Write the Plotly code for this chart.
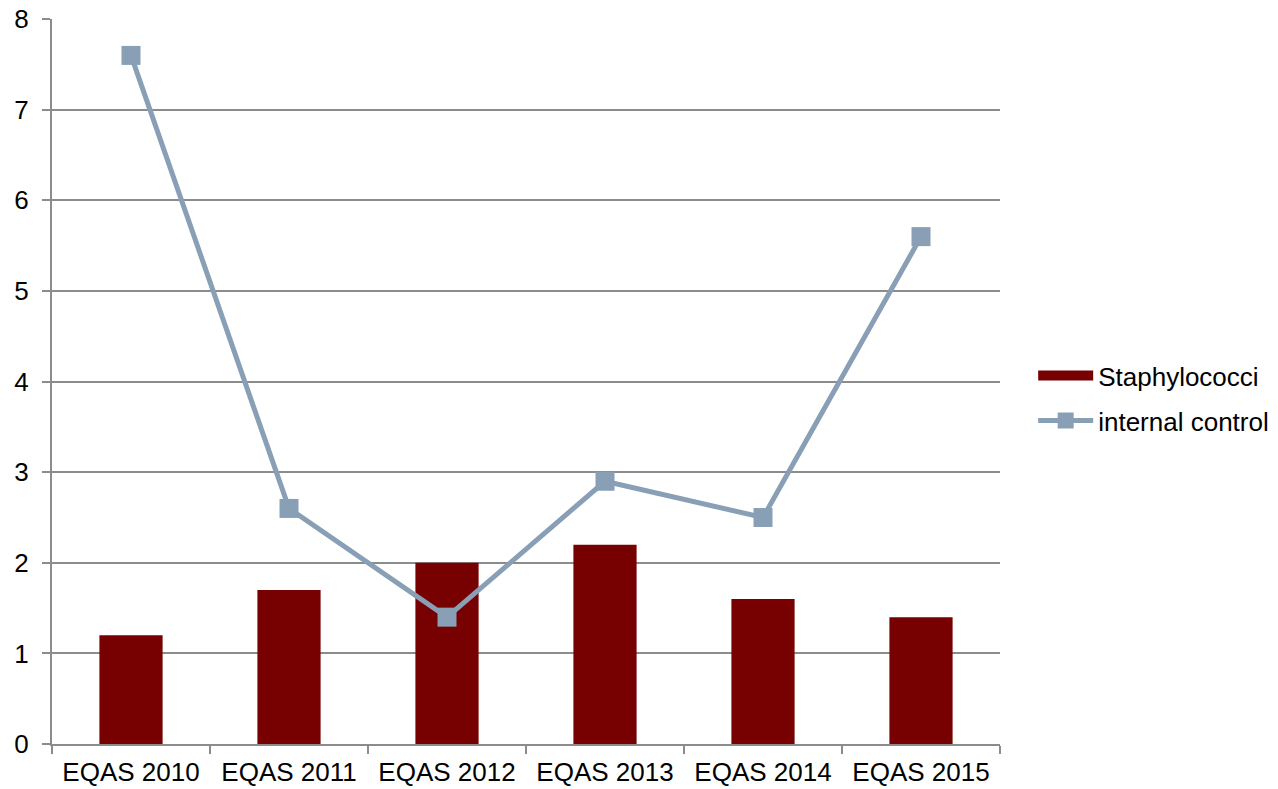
import plotly.graph_objects as go

categories = ["EQAS 2010", "EQAS 2011", "EQAS 2012", "EQAS 2013", "EQAS 2014", "EQAS 2015"]
staphylococci = [1.2, 1.7, 2.0, 2.2, 1.6, 1.4]
internal_control = [7.6, 2.6, 1.4, 2.9, 2.5, 5.6]

font_family = "Liberation Sans, Arial, sans-serif"
bar_color = "#770000"
line_color = "#889fb5"

fig = go.Figure()
fig.add_trace(go.Bar(
    x=categories, y=staphylococci, name="Staphylococci",
    marker=dict(color=bar_color, line=dict(width=0)),
    width=0.4, showlegend=False,
))
# Legend key for the bars: a wide solid block
fig.add_trace(go.Scatter(
    x=[None], y=[None], name="Staphylococci", mode="lines",
    line=dict(color=bar_color, width=14), legendgroup="a",
))
fig.add_trace(go.Scatter(
    x=categories, y=internal_control, name="internal control",
    mode="lines+markers", legendgroup="b",
    line=dict(color=line_color, width=5),
    marker=dict(symbol="square", size=19, color=line_color),
))

fig.update_layout(
    width=1278, height=789,
    margin=dict(l=52, r=278, t=19, b=45, autoexpand=False),
    paper_bgcolor="white", plot_bgcolor="white",
    font=dict(family=font_family, size=26, color="#000000"),
    showlegend=True,
    legend=dict(
        x=1.035, y=0.477, xanchor="left", yanchor="middle",
        font=dict(size=26), bgcolor="rgba(0,0,0,0)",
        tracegroupgap=8, itemwidth=55, traceorder="grouped",
    ),
    bargap=0.6,
)
fig.update_xaxes(
    showline=True, linecolor="#8c8c8c", linewidth=2,
    ticks="outside", ticklen=8, tickcolor="#8c8c8c", tickwidth=2,
    tickson="boundaries", showgrid=False, automargin=False,
    tickfont=dict(size=26), ticklabelstandoff=4,
)
fig.update_yaxes(
    range=[0, 8.002], tickvals=[0, 1, 2, 3, 4, 5, 6, 7, 8],
    showline=True, linecolor="#8c8c8c", linewidth=2,
    ticks="outside", ticklen=8, tickcolor="#8c8c8c", tickwidth=2,
    showgrid=True, gridcolor="#8c8c8c", gridwidth=1.5,
    zeroline=False, automargin=False,
    tickfont=dict(size=26), ticklabelstandoff=8,
)

fig.write_html("out.html")
